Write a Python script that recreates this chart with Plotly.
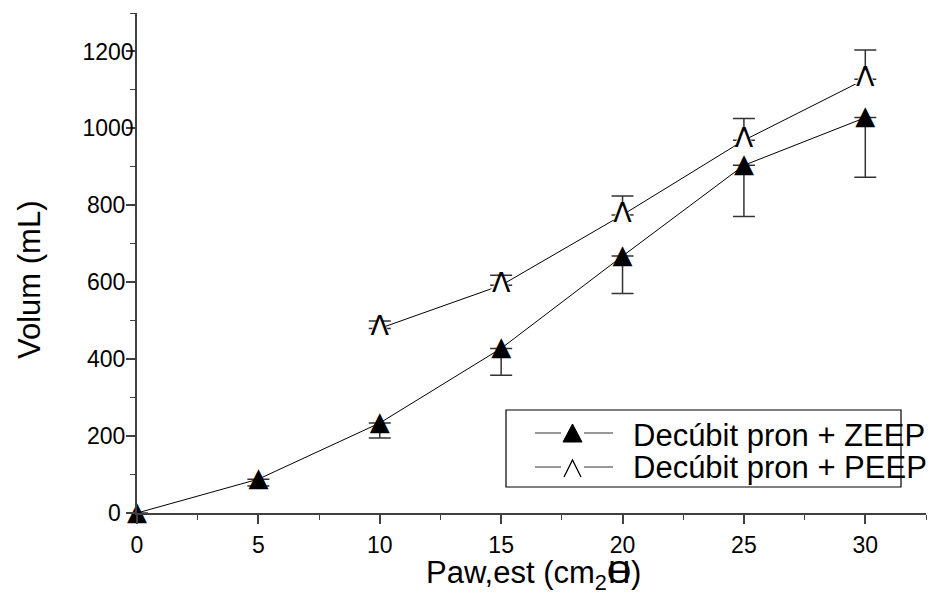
import plotly.graph_objects as go

# ---- data ----
pressure_zeep = [0, 5, 10, 15, 20, 25, 30]
volume_zeep = [0, 88, 234, 428, 668, 904, 1028]
err_zeep_minus = [0, 18, 39, 70, 97, 133, 155]

pressure_peep = [10, 15, 20, 25, 30]
volume_peep = [480, 592, 775, 969, 1128]
err_peep_plus = [19, 26, 49, 57, 76]

x_ticks = [0, 5, 10, 15, 20, 25, 30]
y_ticks = [0, 200, 400, 600, 800, 1000, 1200]

label_zeep = "Decúbit pron + ZEEP"
label_peep = "Decúbit pron + PEEP"
x_title = "Paw,est (cm<sub>2</sub>O)"
y_title = "Volum (mL)"

W, H = 937, 598
L, R, T, B = 137, 11, 13, 85
FONT = "Arial, Liberation Sans, sans-serif"
pw = W - L - R
ph = H - T - B

def px(xp):
    return (xp - L) / pw

def py(yp):
    return (H - B - yp) / ph

# y tick labels are roughly centred in the original: pad shorter labels on the right
def ylabel(v):
    s = str(v)
    if len(s) == 1:
        return s + "\u2007"
    if len(s) == 3:
        return s + "\u00a0\u200a"
    return s

fig = go.Figure()

# ZEEP: line + downward error bars
fig.add_trace(go.Scatter(
    x=pressure_zeep, y=volume_zeep, mode="lines", name=label_zeep,
    line=dict(color="black", width=1),
    error_y=dict(type="data", symmetric=False, array=[0] * len(err_zeep_minus),
                 arrayminus=err_zeep_minus, color="#333333", thickness=1.5, width=11),
    cliponaxis=False, showlegend=False,
))

# PEEP: line + upward error bars
fig.add_trace(go.Scatter(
    x=pressure_peep, y=volume_peep, mode="lines", name=label_peep,
    line=dict(color="black", width=1),
    error_y=dict(type="data", symmetric=False, array=err_peep_plus,
                 arrayminus=[0] * len(err_peep_plus), color="#333333", thickness=1.5, width=11),
    cliponaxis=False, showlegend=False,
))

# white backing under the open carets (symbol interior hides lines / error bar stubs)
fig.add_trace(go.Scatter(
    x=pressure_peep, y=volume_peep, mode="markers",
    marker=dict(symbol="triangle-up", size=19, color="white", line=dict(width=0)),
    cliponaxis=False, showlegend=False, hoverinfo="skip",
))

# ZEEP filled triangles
fig.add_trace(go.Scatter(
    x=pressure_zeep, y=volume_zeep, mode="text", text=["▲"] * len(volume_zeep),
    textposition="middle center",
    textfont=dict(family="DejaVu Sans", size=26, color="black"),
    cliponaxis=False, showlegend=False, hoverinfo="skip",
))

# PEEP open carets
fig.add_trace(go.Scatter(
    x=pressure_peep, y=volume_peep, mode="text", text=["Λ"] * len(volume_peep),
    textposition="middle center",
    textfont=dict(family="DejaVu Sans", size=27, color="black"),
    cliponaxis=False, showlegend=False, hoverinfo="skip",
))

axis_common = dict(
    showline=True, linecolor="#404040", linewidth=1.5, showgrid=False, zeroline=False,
    ticks="outside", tickcolor="#404040", tickwidth=1.5, ticklen=9,
    tickfont=dict(family=FONT, size=23, color="black"),
)

fig.update_xaxes(range=[0, 32.5], tickvals=x_ticks, ticklabelstandoff=2,
                 minor=dict(dtick=2.5, tick0=0, ticks="outside", ticklen=5,
                            tickcolor="#404040", tickwidth=1.2),
                 **axis_common)
fig.update_yaxes(range=[0, 1300], tickvals=y_ticks, ticktext=[ylabel(v) for v in y_ticks],
                 ticklabelstandoff=-12,
                 minor=dict(dtick=100, tick0=0, ticks="outside", ticklen=5,
                            tickcolor="#404040", tickwidth=1.2),
                 **axis_common)

annotations = [
    dict(text=y_title, xref="paper", yref="paper", x=px(29), y=py(280),
         xanchor="center", yanchor="middle", textangle=-90, showarrow=False,
         font=dict(family=FONT, size=31, color="black")),
    dict(text=x_title, xref="paper", yref="paper", x=px(533), y=py(553),
         xanchor="center", yanchor="top", showarrow=False,
         font=dict(family=FONT, size=31, color="black")),
    dict(text="H", xref="paper", yref="paper", x=px(619), y=py(553),
         xanchor="center", yanchor="top", showarrow=False,
         font=dict(family=FONT, size=31, color="black")),
    dict(text=label_zeep, xref="paper", yref="paper", x=px(631), y=py(435),
         xanchor="left", yanchor="middle", showarrow=False,
         font=dict(family=FONT, size=31, color="black")),
    dict(text=label_peep, xref="paper", yref="paper", x=px(631), y=py(467),
         xanchor="left", yanchor="middle", showarrow=False,
         font=dict(family=FONT, size=31, color="black")),
]

def ppath(points, close):
    s = "M " + " L ".join(f"{px(a):.5f},{py(b):.5f}" for a, b in points)
    return s + (" Z" if close else "")

shapes = [
    dict(type="rect", xref="paper", yref="paper", x0=px(506), x1=px(901),
         y0=py(487), y1=py(410), line=dict(color="black", width=1.2), fillcolor="rgba(0,0,0,0)"),
    # legend row 1
    dict(type="line", xref="paper", yref="paper", x0=px(535), x1=px(561), y0=py(433), y1=py(433),
         line=dict(color="#333333", width=1)),
    dict(type="line", xref="paper", yref="paper", x0=px(584), x1=px(613), y0=py(433), y1=py(433),
         line=dict(color="#333333", width=1)),
    dict(type="path", xref="paper", yref="paper", path=ppath([(563, 442), (582, 442), (572.5, 424)], True),
         fillcolor="black", line=dict(color="black", width=1)),
    # legend row 2
    dict(type="line", xref="paper", yref="paper", x0=px(535), x1=px(561), y0=py(467), y1=py(467),
         line=dict(color="#333333", width=1)),
    dict(type="line", xref="paper", yref="paper", x0=px(584), x1=px(613), y0=py(467), y1=py(467),
         line=dict(color="#333333", width=1)),
    dict(type="path", xref="paper", yref="paper", path=ppath([(564, 477), (572.5, 460), (581, 477)], False),
         line=dict(color="black", width=1.3)),
]

fig.update_layout(
    width=W, height=H, margin=dict(l=L, r=R, t=T, b=B),
    paper_bgcolor="white", plot_bgcolor="white",
    font=dict(family=FONT, color="black"),
    annotations=annotations, shapes=shapes, showlegend=False,
)

fig.write_html("out.html")
